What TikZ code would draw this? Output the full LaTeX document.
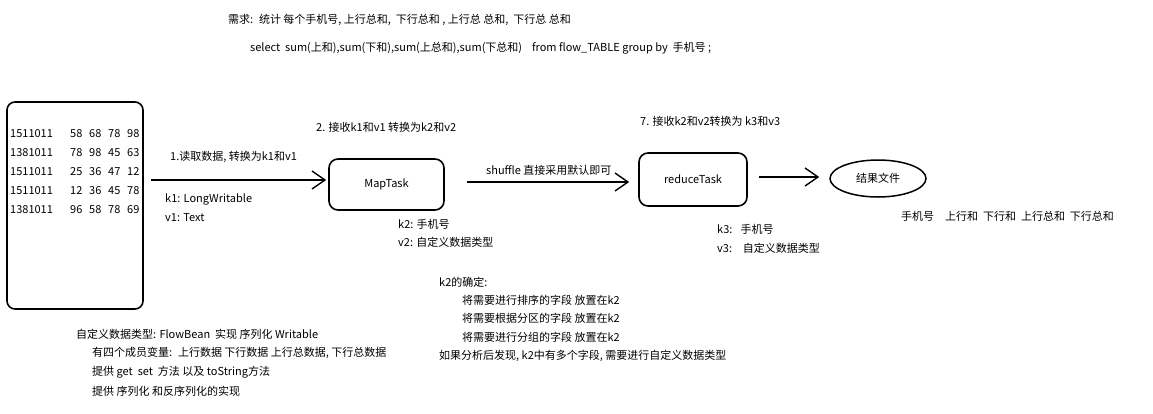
\documentclass[tikz,border=0pt]{standalone}
\usepackage{fontspec}
\setmainfont{Noto Sans CJK SC}
\usetikzlibrary{arrows.meta,positioning,shapes.geometric}

\tikzset{
  taskbox/.style={draw, line width=1.6pt, rounded corners=9pt,
    font=\fontsize{11}{13}\selectfont},
  flow/.style={line width=1.4pt, -{Straight Barb[length=13pt,width=18pt]}},
  note/.style={anchor=west, inner sep=0pt, font=\fontsize{11}{13}\selectfont},
}

\begin{document}
\begin{tikzpicture}[x=1pt,y=-1pt]
  \useasboundingbox (0,0) rectangle (1153,413);
  % Requirement and query
  \node[note] (req) at (228,20) {需求:~ 统计 每个手机号, 上行总和,~ 下行总和 , 上行总 总和,~ 下行总 总和};
  \node[note] (sql) at (250,48) {select~ sum(上和),sum(下和),sum(上总和),sum(下总和)~~~ from flow\_TABLE group by~ 手机号 ;};
  % Input file
  \node[draw, line width=1.6pt, rounded corners=8pt,
        minimum width=136pt, minimum height=207pt] (src) at (75,205.5) {};
  \foreach \ph/\a/\b/\c/\d [count=\i from 0] in
      {1511011/58/68/78/98, 1381011/78/98/45/63, 1511011/25/36/47/12,
       1511011/12/36/45/78, 1381011/96/58/78/69} {
    \node[note] (ph\i) at (10,134+19*\i) {\ph};
    \node[note] (a\i) at (70,134+19*\i) {\a};
    \node[note] (b\i) at (89,134+19*\i) {\b};
    \node[note] (c\i) at (108,134+19*\i) {\c};
    \node[note] (d\i) at (127,134+19*\i) {\d};
  }
  % Tasks and result
  \node[taskbox, minimum width=115pt, minimum height=51pt] (maptask) at (386.5,184.5) {MapTask};
  \node[taskbox, minimum width=108pt, minimum height=53pt] (reducetask) at (693,179.5) {reduceTask};
  \node[draw, ellipse, line width=1.5pt, minimum width=96pt, minimum height=37pt,
        font=\fontsize{11}{13}\selectfont] (result) at (878,178.5) {结果文件};
  % Arrows
  \draw[flow] ([xshift=7pt,yshift=4.5pt]src.east |- maptask.west) -- ([xshift=-2pt,yshift=4.5pt]maptask.west);
  \draw[flow] ([xshift=22pt,yshift=2.5pt]maptask.east) -- ([xshift=-9pt,yshift=-2.5pt]reducetask.west);
  \draw[flow] ([xshift=11pt,yshift=2.5pt]reducetask.east) -- ([xshift=-10pt,yshift=1.5pt]result.west);
  % Step labels
  \node[note] (read) at (170,157) {1.读取数据, 转换为k1和v1};
  \node[note] (k1) at (165,199) {k1: LongWritable};
  \node[note] (v1) at (165,218) {v1: Text};
  \node[note] (mapstep) at (316,127) {2. 接收k1和v1 转换为k2和v2};
  \node[note] (shuffle) at (486,170) {shuffle 直接采用默认即可};
  \node[note] (k2) at (398,224) {k2: 手机号};
  \node[note] (v2) at (398,242) {v2: 自定义数据类型};
  \node[note] (redstep) at (640,121) {7. 接收k2和v2转换为 k3和v3};
  \node[note] (k3) at (717,229) {k3:~~ 手机号};
  \node[note] (v3) at (717,248) {v3:~~~ 自定义数据类型};
  \node[note] (cols) at (901,216) {手机号\quad 上行和~ 下行和~ 上行总和~ 下行总和};
  % Notes on k2
  \node[note] (k2def) at (439,282) {k2的确定:};
  \node[note] (k2a) at (462,300) {将需要进行排序的字段 放置在k2};
  \node[note] (k2b) at (462,318) {将需要根据分区的字段 放置在k2};
  \node[note] (k2c) at (462,337) {将需要进行分组的字段 放置在k2};
  \node[note] (k2d) at (439,356) {如果分析后发现, k2中有多个字段, 需要进行自定义数据类型};
  % Notes on the bean
  \node[note] (bean) at (76,334) {自定义数据类型: FlowBean~ 实现 序列化 Writable};
  \node[note] (beana) at (92,353) {有四个成员变量:~ 上行数据 下行数据 上行总数据, 下行总数据};
  \node[note] (beanb) at (92,372) {提供 get~ set~ 方法 以及 toString方法};
  \node[note] (beanc) at (92,391) {提供 序列化 和反序列化的实现};
\end{tikzpicture}
\end{document}
